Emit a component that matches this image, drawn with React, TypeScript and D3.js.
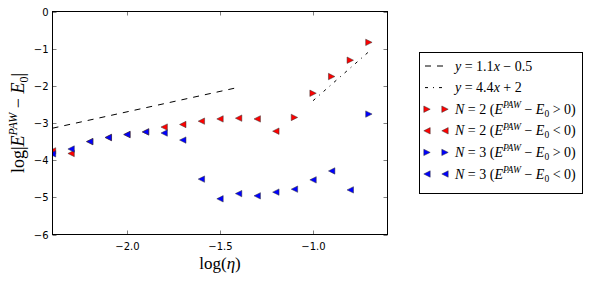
import React, { useEffect, useRef } from 'react';
import * as d3 from 'd3';

// axis ticks
const xTicks = [-2.0, -1.5, -1.0];
const yTicks = [0, -1, -2, -3, -4, -5, -6];

// N=2, E^PAW - E0 > 0
const n2PosX = [-1.1, -1.0, -0.9, -0.8, -0.7];
const n2PosY = [-2.85, -2.2, -1.75, -1.31, -0.83];
// N=2, E^PAW - E0 < 0
const n2NegX = [-2.4, -2.3, -2.2, -2.1, -2.0, -1.9, -1.8, -1.7, -1.6, -1.5, -1.4, -1.3, -1.2];
const n2NegY = [-3.75, -3.82, -3.5, -3.39, -3.31, -3.24, -3.11, -3.04, -2.95, -2.89, -2.87, -2.89, -3.22];
// N=3, E^PAW - E0 > 0
const n3PosX = [-0.7];
const n3PosY = [-2.76];
// N=3, E^PAW - E0 < 0
const n3NegX = [-2.4, -2.3, -2.2, -2.1, -2.0, -1.9, -1.8, -1.7, -1.6, -1.5, -1.4, -1.3, -1.2, -1.1, -1.0, -0.9, -0.8];
const n3NegY = [-3.83, -3.7, -3.5, -3.39, -3.31, -3.24, -3.27, -3.46, -4.51, -5.04, -4.9, -4.96, -4.86, -4.78, -4.53, -4.29, -4.8];

// fitted lines: y = slope * x + intercept
const fitSlopes = [1.1, 4.4];
const fitIntercepts = [-0.5, 2];
const fitFrom = [-2.4, -1.0];
const fitTo = [-1.4, -0.7];

const W = 589;
const H = 281;
const serif = "'Liberation Serif', 'DejaVu Serif', serif";
const sans = "'DejaVu Sans', sans-serif";

const tri = (dir: 'l' | 'r', cx: number, cy: number, s = 3.2) =>
  dir === 'r'
    ? `M${cx + s},${cy}L${cx - s},${cy - s}L${cx - s},${cy + s}Z`
    : `M${cx - s},${cy}L${cx + s},${cy - s}L${cx + s},${cy + s}Z`;

const App: React.FC = () => {
  const svgRef = useRef<SVGSVGElement>(null);

  useEffect(() => {
    document.body.style.margin = '0';
    const svg = d3.select(svgRef.current);
    svg.selectAll('*').remove();

    const left = 52.5, right = 387.5, top = 11.5, bottom = 234.5;
    const x = d3.scaleLinear().domain([-2.4, -0.6]).range([left, right]);
    const y = d3.scaleLinear().domain([-6, 0]).range([bottom, top]);

    svg.append('defs').append('clipPath').attr('id', 'plotclip')
      .append('rect').attr('x', left).attr('y', top)
      .attr('width', right - left).attr('height', bottom - top);

    const plot = svg.append('g').attr('clip-path', 'url(#plotclip)');

    // fit lines
    const dashes = ['6,6', '3,5,1,5'];
    fitSlopes.forEach((m, i) => {
      plot.append('line')
        .attr('x1', x(fitFrom[i])).attr('y1', y(m * fitFrom[i] + fitIntercepts[i]))
        .attr('x2', x(fitTo[i])).attr('y2', y(m * fitTo[i] + fitIntercepts[i]))
        .attr('stroke', 'black').attr('stroke-width', 1)
        .attr('stroke-dasharray', dashes[i]);
    });

    // marker series
    const series: { xs: number[]; ys: number[]; dir: 'l' | 'r'; color: string }[] = [
      { xs: n2PosX, ys: n2PosY, dir: 'r', color: '#ff0000' },
      { xs: n2NegX, ys: n2NegY, dir: 'l', color: '#ff0000' },
      { xs: n3PosX, ys: n3PosY, dir: 'r', color: '#0000ff' },
      { xs: n3NegX, ys: n3NegY, dir: 'l', color: '#0000ff' },
    ];
    series.forEach(s => {
      plot.append('g').selectAll('path')
        .data(s.xs.map((v, i) => [v, s.ys[i]]))
        .enter().append('path')
        .attr('d', d => tri(s.dir, x(d[0]), y(d[1])))
        .attr('fill', s.color)
        .attr('stroke', '#333').attr('stroke-width', 0.5);
    });

    // frame
    svg.append('rect')
      .attr('x', left).attr('y', top)
      .attr('width', right - left).attr('height', bottom - top)
      .attr('fill', 'none').attr('stroke', 'black').attr('stroke-width', 1);

    // ticks (inward, all sides)
    const tl = 4;
    xTicks.forEach(t => {
      const px = Math.round(x(t)) + 0.5;
      svg.append('line').attr('x1', px).attr('x2', px).attr('y1', bottom).attr('y2', bottom - tl)
        .attr('stroke', 'black').attr('stroke-width', 0.5);
      svg.append('line').attr('x1', px).attr('x2', px).attr('y1', top).attr('y2', top + tl)
        .attr('stroke', 'black').attr('stroke-width', 0.5);
      svg.append('text').attr('x', px).attr('y', bottom + 15)
        .attr('text-anchor', 'middle').attr('font-family', sans).attr('font-size', 10)
        .text(d3.format('.1f')(t).replace('-', '\u2212'));
    });
    yTicks.forEach(t => {
      const py = Math.round(y(t)) + 0.5;
      svg.append('line').attr('x1', left).attr('x2', left + tl).attr('y1', py).attr('y2', py)
        .attr('stroke', 'black').attr('stroke-width', 0.5);
      svg.append('line').attr('x1', right).attr('x2', right - tl).attr('y1', py).attr('y2', py)
        .attr('stroke', 'black').attr('stroke-width', 0.5);
      svg.append('text').attr('x', left - 4).attr('y', py + 3.5)
        .attr('text-anchor', 'end').attr('font-family', sans).attr('font-size', 10)
        .text(String(t).replace('-', '\u2212'));
    });

    // x label
    const xl = svg.append('text').attr('x', (left + right) / 2).attr('y', 269)
      .attr('text-anchor', 'middle').attr('font-family', serif).attr('font-size', 17);
    xl.append('tspan').text('log(');
    xl.append('tspan').attr('font-style', 'italic').text('η');
    xl.append('tspan').text(')');

    // y label
    const yl = svg.append('text')
      .attr('transform', `translate(24,${(top + bottom) / 2}) rotate(-90)`)
      .attr('text-anchor', 'middle').attr('font-family', serif).attr('font-size', 18);
    yl.append('tspan').text('log|');
    yl.append('tspan').attr('font-style', 'italic').text('E');
    yl.append('tspan').attr('font-style', 'italic').attr('font-size', 12).attr('dy', -7).text('PAW');
    yl.append('tspan').attr('dy', 7).text(' \u2212 ');
    yl.append('tspan').attr('font-style', 'italic').text('E');
    yl.append('tspan').attr('font-size', 12).attr('dy', 4).text('0');
    yl.append('tspan').attr('dy', -4).text('|');

    // legend
    const lg = svg.append('g');
    lg.append('rect').attr('x', 419.5).attr('y', 52.5).attr('width', 163).attr('height', 141)
      .attr('fill', 'white').attr('stroke', 'black').attr('stroke-width', 1);
    const rowY = (i: number) => 66 + i * 21.6;
    const hx1 = 427, hx2 = 445, tx = 455;

    const addMath = (row: number, parts: [string, 'i' | 'n' | 'sup' | 'sub'][]) => {
      const t = lg.append('text').attr('x', tx).attr('y', rowY(row) + 4.5)
        .attr('font-family', serif).attr('font-size', 14);
      let shift = 0;
      parts.forEach(([s, k]) => {
        const target = k === 'sup' ? -5.5 : k === 'sub' ? 3 : 0;
        const sp = t.append('tspan').attr('dy', target - shift).text(s);
        shift = target;
        if (k === 'i' || k === 'sup') sp.attr('font-style', 'italic');
        if (k === 'sup' || k === 'sub') sp.attr('font-size', 9.5);
      });
    };

    fitSlopes.forEach((m, i) => {
      lg.append('line').attr('x1', hx1 - 2).attr('x2', hx2 + 2).attr('y1', rowY(i)).attr('y2', rowY(i))
        .attr('stroke', 'black').attr('stroke-width', 1).attr('stroke-dasharray', dashes[i]);
      const b = fitIntercepts[i];
      addMath(i, [['y', 'i'], [' = ' + m, 'n'], ['x', 'i'],
        [b < 0 ? ' \u2212 ' + Math.abs(b) : ' + ' + b, 'n']]);
    });

    const legendN = [2, 2, 3, 3];
    const legendRel = ['>', '<', '>', '<'];
    series.forEach((s, i) => {
      const r = i + 2;
      [hx1, hx2].forEach(hx => {
        lg.append('path').attr('d', tri(s.dir, hx, rowY(r)))
          .attr('fill', s.color).attr('stroke', '#333').attr('stroke-width', 0.5);
      });
      addMath(r, [['N', 'i'], [' = ' + legendN[i] + ' (', 'n'], ['E', 'i'], ['PAW', 'sup'],
        [' \u2212 ', 'n'], ['E', 'i'], ['0', 'sub'], [' ' + legendRel[i] + ' 0)', 'n']]);
    });
  }, []);

  return <svg ref={svgRef} width={W} height={H} style={{ display: 'block', background: 'white' }} />;
};

export default App;
